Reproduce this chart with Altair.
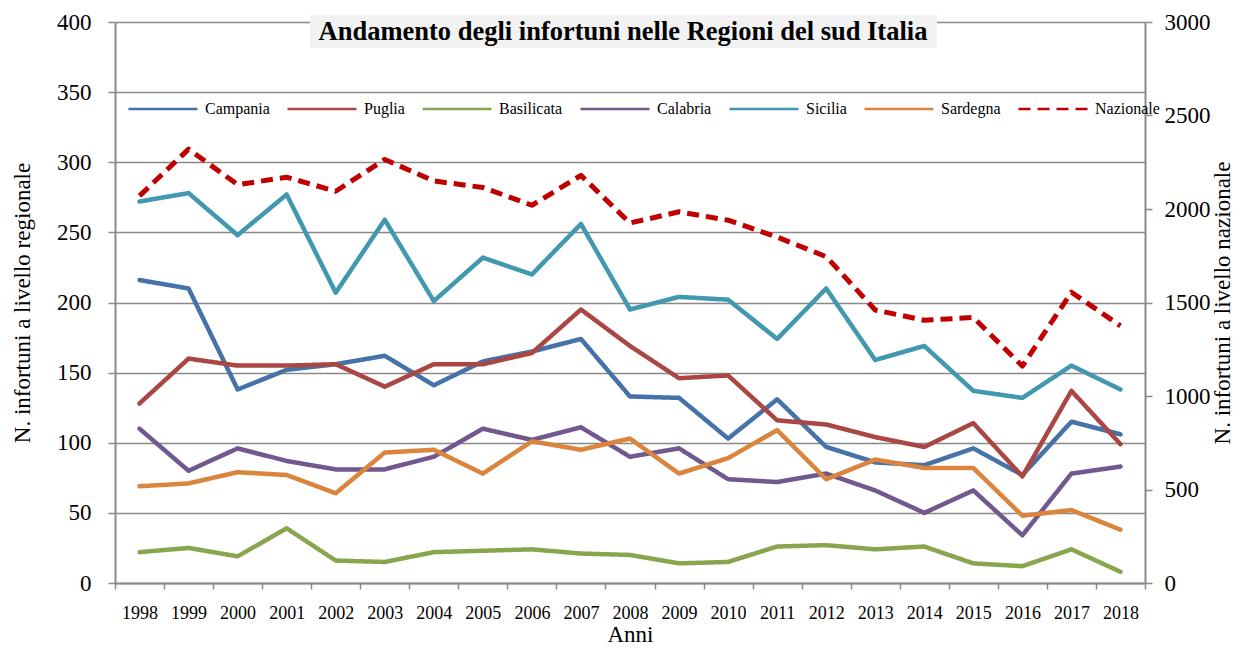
import altair as alt
import pandas as pd

# ---------------- data ----------------
years = [str(y) for y in range(1998, 2019)]

campania = [216, 210, 138, 152, 156, 162, 141, 158, 165, 174, 133, 132, 103, 131, 97, 86, 84, 96, 77, 115, 106]
puglia = [128, 160, 155, 155, 156, 140, 156, 156, 164, 195, 169, 146, 148, 116, 113, 104, 97, 114, 76, 137, 99]
basilicata = [22, 25, 19, 39, 16, 15, 22, 23, 24, 21, 20, 14, 15, 26, 27, 24, 26, 14, 12, 24, 8]
calabria = [110, 80, 96, 87, 81, 81, 90, 110, 102, 111, 90, 96, 74, 72, 78, 66, 50, 66, 34, 78, 83]
sicilia = [272, 278, 248, 277, 207, 259, 201, 232, 220, 256, 195, 204, 202, 174, 210, 159, 169, 137, 132, 155, 138]
sardegna = [69, 71, 79, 77, 64, 93, 95, 78, 101, 95, 103, 78, 89, 109, 74, 88, 82, 82, 48, 52, 38]
nazionale = [2070, 2320, 2130, 2170, 2095, 2265, 2150, 2115, 2020, 2180, 1925, 1985, 1940, 1850, 1745,
             1460, 1405, 1420, 1160, 1555, 1375]

region_names = ["Campania", "Puglia", "Basilicata", "Calabria", "Sicilia", "Sardegna"]
region_values = [campania, puglia, basilicata, calabria, sicilia, sardegna]
all_names = region_names + ["Nazionale"]
colors = ["#4572A7", "#AA4643", "#89A54E", "#71588F", "#4198AF", "#DB843D", "#C00000"]
dashes = [[1, 0]] * 6 + [[12, 7]]

chart_title = "Andamento degli infortuni nelle Regioni del sud Italia"

rows = []
for name, vals in zip(region_names, region_values):
    for y, v in zip(years, vals):
        rows.append({"Anno": y, "Serie": name, "Valore": v})
reg_df = pd.DataFrame(rows)
naz_df = pd.DataFrame({"Anno": years, "Serie": ["Nazionale"] * len(years), "Valore": nazionale})
title_df = pd.DataFrame({"t": [chart_title]})

# ---------------- styling ----------------
FONT = "Liberation Serif"
GRID = "#898989"

legend_cfg = alt.Legend(
    title=None, orient="none", legendX=12, legendY=51, direction="horizontal",
    symbolType="stroke", symbolSize=4761, symbolStrokeWidth=2.5,
    labelFont=FONT, labelFontSize=16, labelColor="black",
    columnPadding=12, labelOffset=6, labelLimit=300,
)

x_enc = alt.X(
    "Anno:O", title="Anni",
    scale=alt.Scale(type="band", paddingInner=0, paddingOuter=0),
    bandPosition=0.5,
    axis=alt.Axis(
        tickBand="extent", labelAngle=0, labelFont=FONT, labelFontSize=18, labelColor="black",
        titleFont=FONT, titleFontSize=23, titleFontWeight="normal", titleColor="black",
        domainColor=GRID, domainWidth=2, tickColor=GRID, tickWidth=1.5, tickSize=6,
        labelPadding=15, titlePadding=1, grid=False,
    ),
)

color_enc = alt.Color("Serie:N", scale=alt.Scale(domain=all_names, range=colors), legend=legend_cfg)
dash_enc = alt.StrokeDash("Serie:N", scale=alt.Scale(domain=all_names, range=dashes), legend=legend_cfg)

regional = alt.Chart(reg_df).mark_line(strokeWidth=4.5, strokeCap="round", strokeJoin="round").encode(
    x=x_enc,
    y=alt.Y(
        "Valore:Q",
        scale=alt.Scale(domain=[0, 400], nice=False),
        axis=alt.Axis(
            orient="left", values=list(range(0, 401, 50)), title="N. infortuni a livello regionale",
            format="d",
            labelFont=FONT, labelFontSize=23, labelColor="black", labelPadding=17,
            titleFont=FONT, titleFontSize=23, titleFontWeight="normal", titleColor="black", titlePadding=22,
            domainColor=GRID, domainWidth=2, tickColor=GRID, tickWidth=1.5, tickSize=7,
            grid=True, gridColor=GRID, gridWidth=1.5,
        ),
    ),
    color=color_enc,
    strokeDash=dash_enc,
)

national = alt.Chart(naz_df).mark_line(strokeWidth=5, strokeJoin="round").encode(
    x=x_enc,
    y=alt.Y(
        "Valore:Q",
        scale=alt.Scale(domain=[0, 3000], nice=False),
        axis=alt.Axis(
            orient="right", values=list(range(0, 3001, 500)), title="N. infortuni a livello nazionale",
            format="d",
            labelFont=FONT, labelFontSize=23, labelColor="black", labelPadding=12,
            titleFont=FONT, titleFontSize=23, titleFontWeight="normal", titleColor="black",
            titleAngle=270, titleBaseline="top", titlePadding=1,
            domainColor=GRID, domainWidth=2, tickColor=GRID, tickWidth=1.5, tickSize=7,
            grid=False,
        ),
    ),
    color=color_enc,
    strokeDash=dash_enc,
)

title_box = alt.Chart(title_df).mark_rect(color="#F2F2F2").encode(
    x=alt.value(195), x2=alt.value(822), y=alt.value(-7), y2=alt.value(26)
)
title_text = alt.Chart(title_df).mark_text(
    font=FONT, fontSize=26.5, fontWeight="bold", color="black", align="center", baseline="middle"
).encode(x=alt.value(508), y=alt.value(10), text="t:N")

chart = (
    alt.layer(regional, national, title_box, title_text)
    .resolve_scale(y="independent")
    .properties(
        width=1030, height=561,
        autosize=alt.AutoSizeParams(type="none"),
        padding={"left": 107, "top": 14, "right": 88, "bottom": 62},
        background="white",
    )
    .configure_view(strokeWidth=0)
)

chart.save("out.html", embed_options={"renderer": "svg", "actions": False})
